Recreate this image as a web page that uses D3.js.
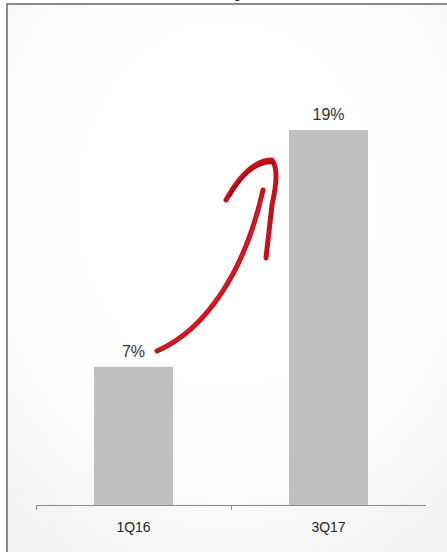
<!DOCTYPE html>
<html><head><meta charset="utf-8">
<script src="https://cdn.jsdelivr.net/npm/d3@7"></script>
<style>html,body{margin:0;padding:0;background:#fff;}svg{display:block;}</style>
</head><body>
<script>
const categories = ["1Q16", "3Q17"];
const values = [7, 19];
const valueLabels = ["7%", "19%"];

const W = 447, H = 552;
const svg = d3.select("body").append("svg").attr("width", W).attr("height", H);

const defs = svg.append("defs");
const rg = defs.append("radialGradient").attr("id", "bg")
  .attr("cx", "48%").attr("cy", "35%").attr("r", "72%");
rg.append("stop").attr("offset", "0%").attr("stop-color", "#ffffff");
rg.append("stop").attr("offset", "60%").attr("stop-color", "#fefefe");
rg.append("stop").attr("offset", "100%").attr("stop-color", "#f2f2f2");

// frame
svg.append("rect").attr("x", 7).attr("y", 4).attr("width", 460).attr("height", 570)
  .attr("fill", "url(#bg)").attr("stroke", "#8a8a8a").attr("stroke-width", 2);

// clipped title descender (title cut off at top in the reference)
svg.append("text").attr("x", 240).attr("y", -3).attr("text-anchor", "middle")
  .attr("font-family", "Liberation Sans, Arial, sans-serif").attr("font-size", 20)
  .attr("font-weight", "bold").attr("fill", "#222").text("y");

const x = d3.scaleBand().domain(categories).range([36, 426]).paddingInner(0.595).paddingOuter(0.2975);
const y = d3.scaleLinear().domain([0, 19]).range([505, 130]);

const g = svg.append("g");
g.selectAll("rect.bar").data(categories).join("rect").attr("class", "bar")
  .attr("x", d => x(d)).attr("width", x.bandwidth())
  .attr("y", (d, i) => y(values[i])).attr("height", (d, i) => y(0) - y(values[i]))
  .attr("fill", "#bfbfbf");

// axis
const axisG = svg.append("g").attr("transform", `translate(0,${y(0)})`);
axisG.append("line").attr("x1", 36).attr("x2", 426).attr("y1", 0.5).attr("y2", 0.5)
  .attr("stroke", "#8c8c8c").attr("stroke-width", 1);
const tickXs = [36, 36 + (426 - 36) / 2];
axisG.selectAll("line.tick").data(tickXs).join("line").attr("class", "tick")
  .attr("x1", d => d + 0.5).attr("x2", d => d + 0.5).attr("y1", 0).attr("y2", 5)
  .attr("stroke", "#8c8c8c");
axisG.selectAll("text.cat").data(categories).join("text").attr("class", "cat")
  .attr("x", d => x(d) + x.bandwidth() / 2).attr("y", 27)
  .attr("text-anchor", "middle").attr("font-family", "Liberation Sans, Arial, sans-serif")
  .attr("font-size", 14).attr("fill", "#262626").text(d => d);

// value labels
g.selectAll("text.val").data(categories).join("text").attr("class", "val")
  .attr("x", d => x(d) + x.bandwidth() / 2).attr("y", (d, i) => y(values[i]) - 10)
  .attr("text-anchor", "middle").attr("font-family", "Liberation Sans, Arial, sans-serif")
  .attr("font-size", 16).attr("fill", "#333").text((d, i) => valueLabels[i]);

// red brush arrow (annotation)
const arrow = svg.append("g").attr("fill", "none").attr("stroke", "#c8101a")
  .attr("stroke-linecap", "round").attr("stroke-linejoin", "round");
const shaft = d3.path();
shaft.moveTo(157, 351);
shaft.bezierCurveTo(205, 330, 245, 272, 263, 190);
arrow.append("path").attr("d", shaft.toString()).attr("stroke-width", 5);
const shaft2 = d3.path();
shaft2.moveTo(161, 349);
shaft2.bezierCurveTo(209, 324, 247, 262, 262, 196);
arrow.append("path").attr("d", shaft2.toString()).attr("stroke-width", 2).attr("stroke", "#d8202a").attr("opacity", 0.8);
const head = d3.path();
head.moveTo(226, 200);
head.bezierCurveTo(240, 175, 255, 160, 272, 160);
head.quadraticCurveTo(280, 170, 272, 205);
head.lineTo(266, 258);
arrow.append("path").attr("d", head.toString()).attr("stroke-width", 5);
const head2 = d3.path();
head2.moveTo(230, 196);
head2.bezierCurveTo(244, 172, 258, 162, 273, 163);
arrow.append("path").attr("d", head2.toString()).attr("stroke-width", 2.5).attr("stroke", "#b00010");
</script>
</body></html>
